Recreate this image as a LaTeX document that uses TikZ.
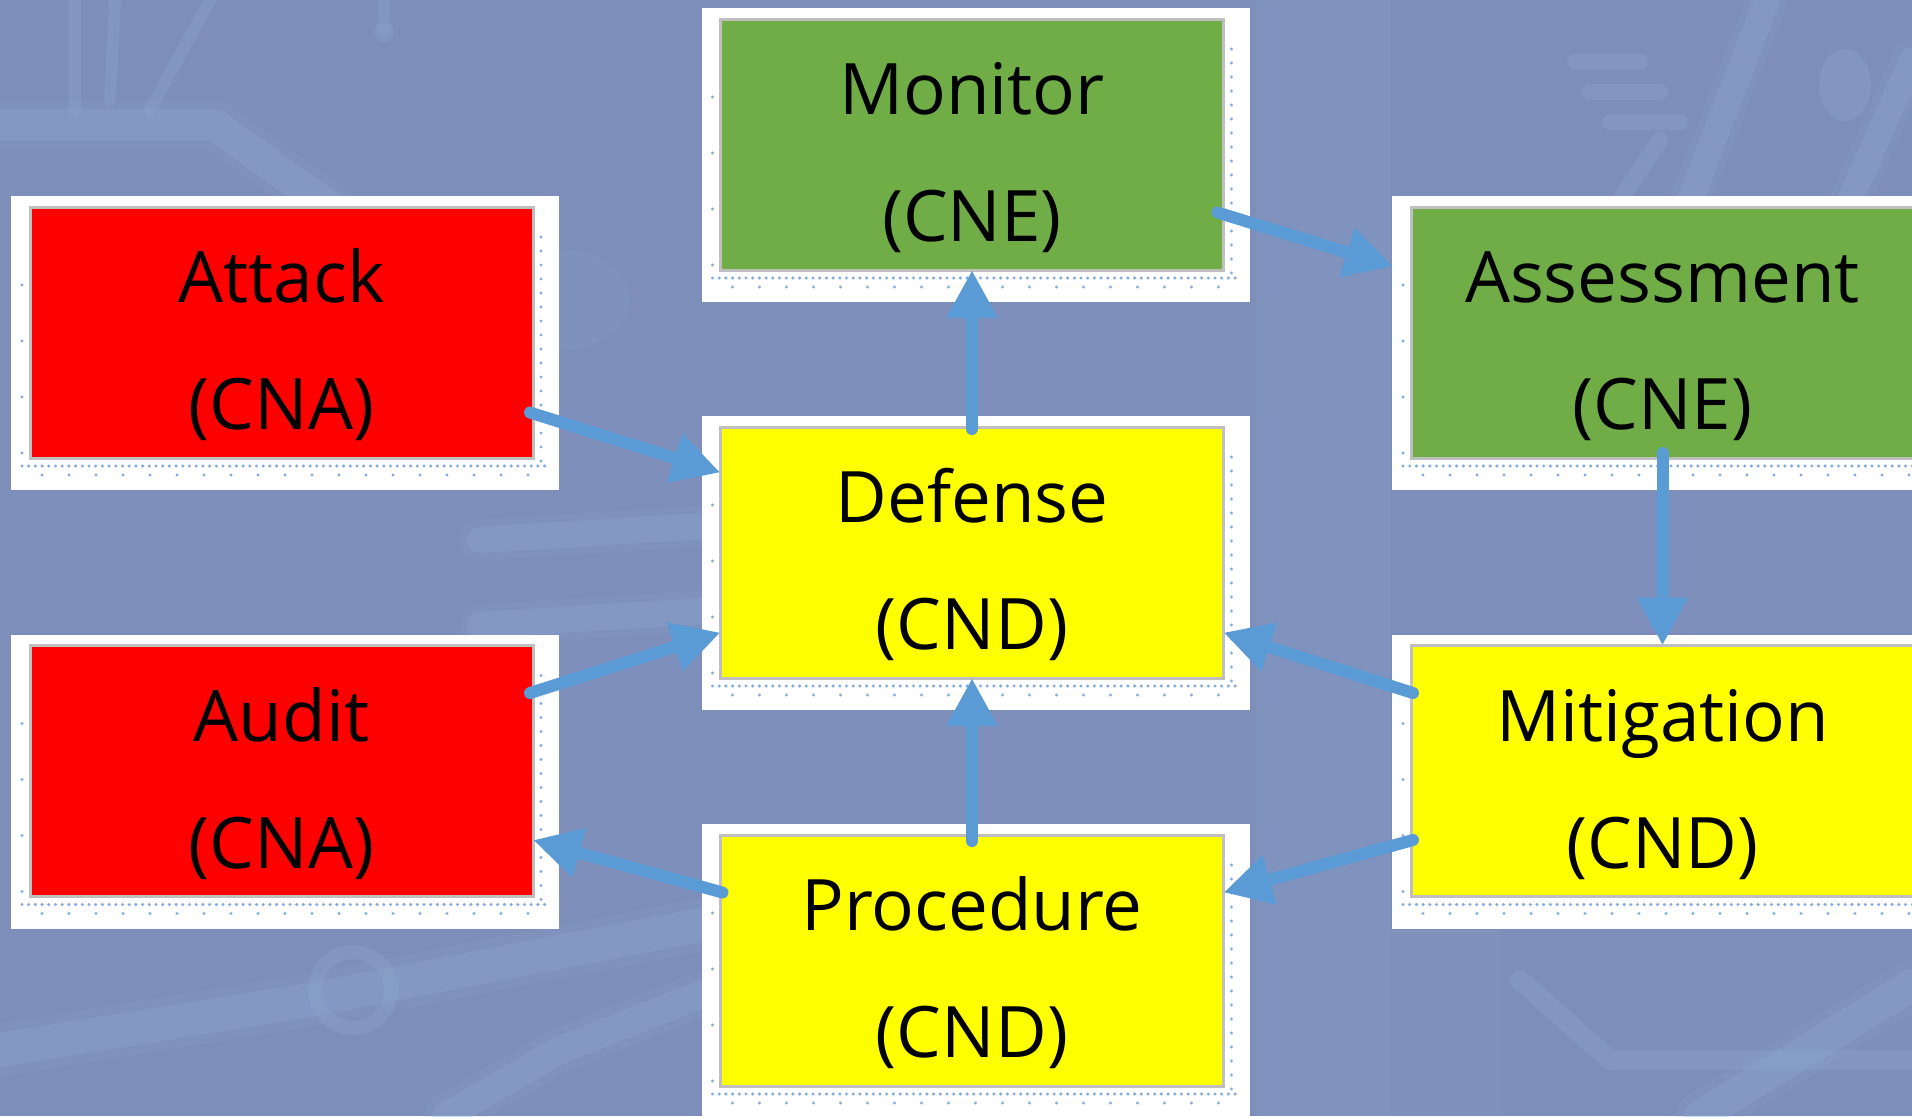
\documentclass[tikz,border=0pt]{standalone}
\usepackage{fontspec}
\setmainfont{Open Sans}
\usetikzlibrary{arrows.meta,backgrounds,calc}

\definecolor{bgblue}{HTML}{7D8EBB}
\definecolor{trace}{HTML}{8FA9D0}
\definecolor{cnared}{HTML}{FF0000}
\definecolor{cnegreen}{HTML}{70AD47}
\definecolor{cndyellow}{HTML}{FFFF00}
\definecolor{framegray}{HTML}{BFBFBF}
\definecolor{arrowblue}{HTML}{5B9BD5}
\definecolor{dotblue}{HTML}{82ABDF}

\tikzset{
  card/.style={draw=framegray, line width=1.5pt, fill=#1,
    minimum width=251.5pt, minimum height=125.5pt, inner sep=0pt, outer sep=0pt},
  cardtext/.style={anchor=base, inner sep=0pt, text=black,
    font=\fontsize{35.5}{40}\selectfont},
  flow/.style={draw=arrowblue, line width=6pt, line cap=round,
    -{Triangle[length=24pt,width=24pt]}},
  glow/.style={draw=trace, draw opacity=0.14, line width=#1, line cap=round, line join=round},
  core/.style={draw=trace, draw opacity=0.3, line width=#1, line cap=round, line join=round},
  dotrow/.style={draw=dotblue, line width=1.7pt, line cap=round, dash pattern=on 0pt off #1},
}

\begin{document}
\begin{tikzpicture}[x=0.5pt, y=-0.5pt]
\useasboundingbox (0,0) rectangle (1912,1116);

% cards (centres in pixel units, y downwards)
\node[card=cnared]     (attack)     at (281.5,332.5) {};
\node[card=cnared]     (audit)      at (281.5,771)   {};
\node[card=cnegreen]   (monitor)    at (972,144.5)   {};
\node[card=cndyellow]  (defense)    at (972,552.5)   {};
\node[card=cndyellow]  (procedure)  at (972,960.5)   {};
\node[card=cnegreen]   (assessment) at (1662.5,332.5) {};
\node[card=cndyellow]  (mitigation) at (1662.5,771)  {};

% card captions
\foreach \n/\a/\b in {attack/Attack/(CNA), audit/Audit/(CNA),
    monitor/Monitor/(CNE), defense/Defense/(CND), procedure/Procedure/(CND),
    assessment/Assessment/(CNE), mitigation/Mitigation/(CND)} {
  \node[cardtext] (\n-top) at ([yshift=15pt]\n.center) {\a};
  \node[cardtext] (\n-bot) at ([yshift=-48.5pt]\n.center) {\b};
}

% connectors
\draw[flow] ([xshift=-1.5pt,yshift=-40pt]attack.east) -- ([yshift=40pt]defense.west);
\draw[flow] ([xshift=-1.5pt,yshift=39pt]audit.east) -- ([yshift=-40pt]defense.west);
\draw[flow] ([yshift=-1pt]defense.north) -- (monitor.south);
\draw[flow] ([xshift=-3pt,yshift=-34pt]monitor.east) -- ([xshift=-9pt,yshift=33pt]assessment.west);
\draw[flow] ([yshift=2.5pt]assessment.south) -- (mitigation.north);
\draw[flow] ([xshift=1pt,yshift=39pt]mitigation.west) -- ([yshift=-40pt]defense.east);
\draw[flow] ([xshift=1pt,yshift=-34.5pt]mitigation.west) -- ([yshift=34pt]procedure.east);
\draw[flow] ([yshift=-3pt]procedure.north) -- (defense.south);
\draw[flow] ([xshift=1pt,yshift=34pt]procedure.west) -- ([yshift=-34.5pt]audit.east);

\begin{pgfonlayer}{background}
\begin{scope}
\clip (0,0) rectangle (1912,1116);
\fill[bgblue] (0,0) rectangle (1912,1116);

% faint circuit-board traces
\fill[trace, opacity=0.22] (1256,0) rectangle (1390,1116);
\fill[trace, opacity=0.12] (1390,930) rectangle (1500,1116);
\fill[trace, opacity=0.14] (560,300) ellipse [x radius=70, y radius=50];

\draw[glow=24pt] (0,125) -- (215,125) -- (340,215);
\draw[core=16pt] (0,125) -- (215,125) -- (340,215);
\draw[core=6pt] (75,0) -- (75,110) (115,0) -- (110,100) (210,0) -- (150,110);
\draw[core=6pt] (384,0) -- (384,30);
\fill[trace, opacity=0.3] (384,32) circle [radius=10];

\draw[glow=26pt] (0,1050) -- (310,1000) -- (700,925);
\draw[core=17pt] (0,1050) -- (310,1000) -- (700,925);
\draw[core=7pt] (353,990) circle [radius=38];
\draw[glow=22pt] (446,1116) -- (560,1050) -- (700,995);
\draw[core=14pt] (446,1116) -- (560,1050) -- (700,995);

\draw[glow=20pt] (480,540) -- (720,525);
\draw[core=13pt] (480,540) -- (720,525);
\draw[glow=20pt] (480,625) -- (720,610);
\draw[core=13pt] (480,625) -- (720,610);

\draw[glow=20pt] (1767,0) -- (1690,200);
\draw[core=13pt] (1767,0) -- (1690,200);
\draw[glow=20pt] (1912,60) -- (1850,200);
\draw[core=13pt] (1912,60) -- (1850,200);
\fill[trace, opacity=0.3] (1845,85) ellipse [x radius=26, y radius=36];
\draw[core=8pt] (1575,62) -- (1640,62) (1590,92) -- (1660,92) (1610,122) -- (1680,122)
  (1660,140) -- (1620,200);
\draw[glow=24pt] (1700,1116) -- (1912,985);
\draw[core=16pt] (1700,1116) -- (1912,985);
\draw[core=10pt] (1520,980) -- (1610,1060) -- (1912,1060);

% white mounting panels behind the cards, with their dotted edges
\foreach \n in {attack,audit,monitor,defense,procedure,assessment,mitigation} {
  \fill[white] ($(\n.north west)+(-19,-11)$) rectangle ($(\n.south east)+(26,32)$);
  \draw[dotrow=3.35pt] ($(\n.south west)+(-8,8)$) -- ($(\n.south east)+(12,8)$);
  \draw[dotrow=13.5pt] ($(\n.south west)+(12,17)$) -- ($(\n.south east)+(0,17)$);
  \draw[dotrow=7pt] ($(\n.north east)+(8,30)$) -- ($(\n.south east)+(8,4)$);
  \draw[dotrow=28pt] ($(\n.north west)+(-8,78)$) -- ($(\n.south west)+(-8,0)$);
}
\end{scope}
\end{pgfonlayer}
\end{tikzpicture}
\end{document}
